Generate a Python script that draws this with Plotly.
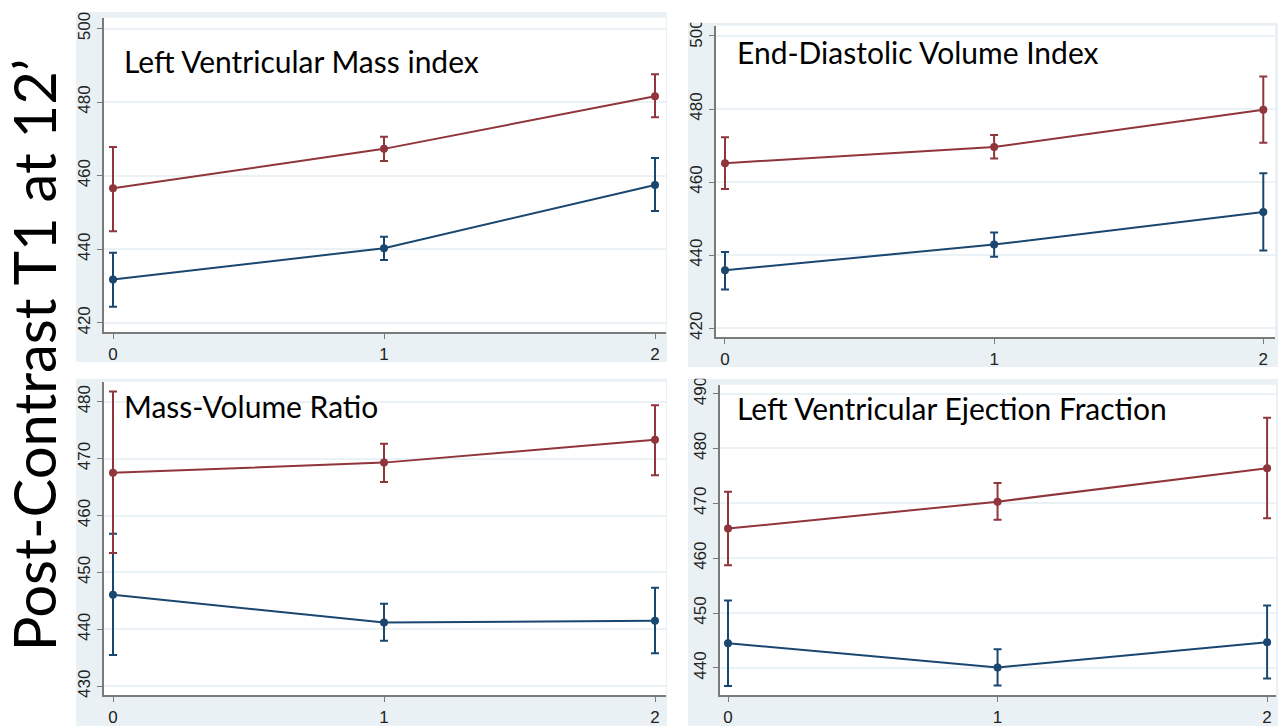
import plotly.graph_objects as go

W, H = 1287, 728

# ---------------- data ----------------
x_vals = [0, 1, 2]
x_ticks = ["0", "1", "2"]

titles = ["Left Ventricular Mass index", "End-Diastolic Volume Index",
          "Mass-Volume Ratio", "Left Ventricular Ejection Fraction"]
side_label = "Post-Contrast T1 at 12\u2019"

lvmi_red = [456.6, 467.3, 481.6]
lvmi_red_hi = [467.8, 470.6, 487.6]
lvmi_red_lo = [444.9, 464.0, 475.9]
lvmi_blue = [431.8, 440.3, 457.5]
lvmi_blue_hi = [439.1, 443.4, 464.8]
lvmi_blue_lo = [424.4, 437.1, 450.4]

edvi_red = [465.2, 469.6, 479.8]
edvi_red_hi = [472.3, 472.9, 488.9]
edvi_red_lo = [458.1, 466.5, 470.8]
edvi_blue = [435.9, 442.9, 451.8]
edvi_blue_hi = [440.9, 446.2, 462.4]
edvi_blue_lo = [430.6, 439.6, 441.3]

mvr_red = [467.5, 469.3, 473.3]
mvr_red_hi = [481.8, 472.6, 479.4]
mvr_red_lo = [453.4, 465.9, 467.1]
mvr_blue = [446.1, 441.2, 441.5]
mvr_blue_hi = [456.8, 444.5, 447.3]
mvr_blue_lo = [435.5, 438.0, 435.8]

lvef_red = [465.4, 470.3, 476.4]
lvef_red_hi = [472.1, 473.7, 485.6]
lvef_red_lo = [458.7, 467.0, 467.3]
lvef_blue = [444.5, 440.1, 444.7]
lvef_blue_hi = [452.3, 443.4, 451.4]
lvef_blue_lo = [436.7, 436.8, 438.1]

y_ticks_top = [420, 440, 460, 480, 500]
y_ticks_mvr = [430, 440, 450, 460, 470, 480]
y_ticks_lvef = [440, 450, 460, 470, 480, 490]

NAVY = "#1A476F"
MAROON = "#90353B"
BG = "#EAF1F4"
GRID = "#EBF2F5"
AXIS = "#7A7A7A"

# ---------------- layout geometry (pixels) ----------------
def px_x(p):
    return p / W

def px_y(p):
    return 1 - p / H

panels = [
    dict(plot=(104, 666, 10, 329), bg=(76, 667, 4, 359), yr=[417.4, 502.9], xr=[-0.0332, 2.0406], yt=y_ticks_top,
         data=(lvmi_red, lvmi_red_hi, lvmi_red_lo, lvmi_blue, lvmi_blue_hi, lvmi_blue_lo), title_pos=(122, 54)),
    dict(plot=(716, 1275, 18, 334), bg=(688, 1278, 15, 364), yr=[417.5, 502.8], xr=[-0.0334, 2.0435], yt=y_ticks_top,
         data=(edvi_red, edvi_red_hi, edvi_red_lo, edvi_blue, edvi_blue_hi, edvi_blue_lo), title_pos=(735, 45)),
    dict(plot=(104, 666, 379, 697), bg=(76, 667, 376, 728), yr=[428.4, 483.5], xr=[-0.0332, 2.0406], yt=y_ticks_mvr,
         data=(mvr_red, mvr_red_hi, mvr_red_lo, mvr_blue, mvr_blue_hi, mvr_blue_lo), title_pos=(122, 404)),
    dict(plot=(720, 1276, 382, 697), bg=(688, 1278, 376, 728), yr=[435.0, 491.6], xr=[-0.0297, 2.033], yt=y_ticks_lvef,
         data=(lvef_red, lvef_red_hi, lvef_red_lo, lvef_blue, lvef_blue_hi, lvef_blue_lo), title_pos=(735, 406)),
]

fig = go.Figure()
shapes = []
annotations = []
layout_axes = {}

for i, p in enumerate(panels):
    n = "" if i == 0 else str(i + 1)
    xa, ya = "x" + n, "y" + n
    red, red_hi, red_lo, blue, blue_hi, blue_lo = p["data"]
    for vals, hi, lo, col in [(blue, blue_hi, blue_lo, NAVY), (red, red_hi, red_lo, MAROON)]:
        fig.add_trace(go.Scatter(
            x=x_vals, y=vals, xaxis=xa, yaxis=ya, mode="lines+markers",
            line=dict(color=col, width=2),
            marker=dict(color=col, size=8),
            error_y=dict(type="data", symmetric=False,
                         array=[h - v for h, v in zip(hi, vals)],
                         arrayminus=[v - l for v, l in zip(vals, lo)],
                         color=col, thickness=2, width=4),
            showlegend=False, hoverinfo="skip", cliponaxis=False))
    x0, x1, y0, y1 = p["plot"]
    bx0, bx1, by0, by1 = p["bg"]
    shapes.append(dict(type="rect", xref="paper", yref="paper", layer="below",
                       x0=px_x(bx0), x1=px_x(bx1), y0=px_y(by1), y1=px_y(by0),
                       fillcolor=BG, line=dict(width=0)))
    shapes.append(dict(type="rect", xref="paper", yref="paper", layer="below",
                       x0=px_x(x0), x1=px_x(x1), y0=px_y(y1), y1=px_y(y0),
                       fillcolor="white", line=dict(width=0)))
    layout_axes["xaxis" + n] = dict(
        domain=[px_x(x0), px_x(x1)], range=p["xr"], anchor=ya,
        tickvals=x_vals, ticktext=x_ticks, showgrid=False, zeroline=False,
        showline=True, linecolor=AXIS, linewidth=1.5,
        ticks="outside", ticklen=5, tickwidth=1, tickcolor=AXIS,
        tickfont=dict(family="Liberation Sans, Arial", size=17, color="#222"))
    layout_axes["yaxis" + n] = dict(
        domain=[px_y(y1), px_y(y0)], range=p["yr"], anchor=xa,
        tickvals=p["yt"], showgrid=True, gridcolor=GRID, gridwidth=1.5, zeroline=False,
        showline=True, linecolor=AXIS, linewidth=1.5,
        ticks="outside", ticklen=5, tickwidth=1, tickcolor=AXIS, tickangle=-90,
        tickfont=dict(family="Liberation Sans, Arial", size=17, color="#222"))
    tx, ty = p["title_pos"]
    annotations.append(dict(text=titles[i], xref="paper", yref="paper",
                            x=px_x(tx), y=px_y(ty), xanchor="left", yanchor="middle",
                            showarrow=False,
                            font=dict(family="Lato, Carlito, Calibri", size=30, color="black")))

# white cover strips (image crop at top of right panels)
shapes.append(dict(type="rect", xref="paper", yref="paper", layer="above",
                   x0=px_x(680), x1=1, y0=px_y(15), y1=1, fillcolor="white", line=dict(width=0)))
shapes.append(dict(type="rect", xref="paper", yref="paper", layer="above",
                   x0=px_x(680), x1=1, y0=px_y(376), y1=px_y(364), fillcolor="white", line=dict(width=0)))

annotations.append(dict(text=side_label, xref="paper", yref="paper",
                        x=px_x(33), y=px_y(352), xanchor="center", yanchor="middle",
                        textangle=-90, showarrow=False,
                        font=dict(family="Lato, Carlito, Calibri", size=58, color="black")))

fig.update_layout(width=W, height=H, margin=dict(l=0, r=0, t=0, b=0),
                  paper_bgcolor="white", plot_bgcolor="rgba(0,0,0,0)",
                  shapes=shapes, annotations=annotations, **layout_axes)

post = ("document.body.style.margin='0';"
        "var d=document.getElementById('{plot_id}');"
        "d.style.position='absolute';d.style.left='0px';d.style.top='0px';")

fig.write_html("out.html", post_script=post, config={"displayModeBar": False})
